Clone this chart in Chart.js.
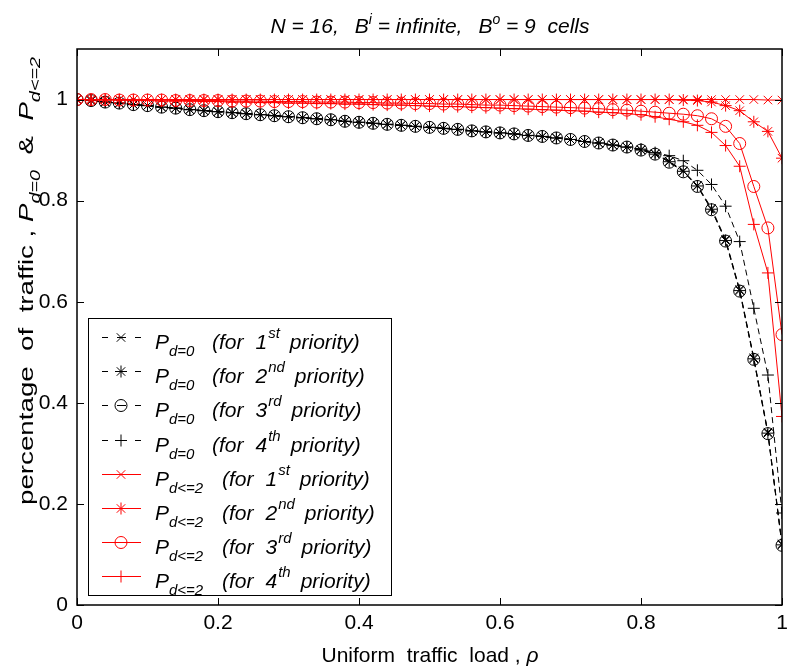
<!DOCTYPE html>
<html>
<head>
<meta charset="utf-8">
<script src="https://cdn.jsdelivr.net/npm/chart.js@4.4.0/dist/chart.umd.min.js"></script>
<style>
  html, body { margin: 0; padding: 0; background: #fff; }
  #chart { display: block; }
</style>
</head>
<body>
<canvas id="chart" width="789" height="671" style="width:789px;height:671px"></canvas>
<script>
// Uniform traffic load (x axis)
const loadValues = [
    0.00, 0.02, 0.04, 0.06, 0.08, 0.10, 0.12, 0.14, 0.16, 0.18,
    0.20, 0.22, 0.24, 0.26, 0.28, 0.30, 0.32, 0.34, 0.36, 0.38,
    0.40, 0.42, 0.44, 0.46, 0.48, 0.50, 0.52, 0.54, 0.56, 0.58,
    0.60, 0.62, 0.64, 0.66, 0.68, 0.70, 0.72, 0.74, 0.76, 0.78,
    0.80, 0.82, 0.84, 0.86, 0.88, 0.90, 0.92, 0.94, 0.96, 0.98, 1.00
];

// P_d=0 (black, dashed)
const pd0First = [
    1.000, 0.998, 0.995, 0.993, 0.990, 0.988, 0.985, 0.983, 0.980, 0.978,
    0.976, 0.974, 0.972, 0.970, 0.968, 0.966, 0.964, 0.962, 0.960, 0.957,
    0.955, 0.953, 0.951, 0.949, 0.947, 0.945, 0.943, 0.941, 0.938, 0.936,
    0.934, 0.932, 0.929, 0.927, 0.924, 0.921, 0.917, 0.914, 0.910, 0.906,
    0.901, 0.893, 0.878, 0.859, 0.830, 0.785, 0.723, 0.624, 0.489, 0.342, 0.121
];
const pd0Second = [
    1.000, 0.998, 0.995, 0.993, 0.990, 0.988, 0.985, 0.983, 0.980, 0.978,
    0.976, 0.974, 0.972, 0.970, 0.968, 0.966, 0.964, 0.962, 0.960, 0.957,
    0.955, 0.953, 0.951, 0.949, 0.947, 0.945, 0.943, 0.941, 0.938, 0.936,
    0.934, 0.932, 0.929, 0.927, 0.924, 0.921, 0.917, 0.914, 0.910, 0.906,
    0.900, 0.892, 0.877, 0.858, 0.829, 0.783, 0.721, 0.622, 0.487, 0.340, 0.119
];
const pd0Third = [
    1.000, 0.998, 0.995, 0.993, 0.990, 0.988, 0.985, 0.983, 0.980, 0.978,
    0.976, 0.974, 0.972, 0.970, 0.968, 0.966, 0.964, 0.962, 0.960, 0.957,
    0.955, 0.953, 0.951, 0.949, 0.947, 0.945, 0.943, 0.941, 0.938, 0.936,
    0.934, 0.932, 0.929, 0.927, 0.924, 0.921, 0.917, 0.914, 0.910, 0.906,
    0.900, 0.892, 0.876, 0.857, 0.828, 0.782, 0.720, 0.621, 0.486, 0.339, 0.118
];
const pd0Fourth = [
    1.000, 0.998, 0.995, 0.993, 0.990, 0.988, 0.985, 0.983, 0.980, 0.978,
    0.976, 0.974, 0.972, 0.970, 0.968, 0.966, 0.964, 0.962, 0.960, 0.957,
    0.955, 0.953, 0.951, 0.949, 0.947, 0.945, 0.943, 0.941, 0.938, 0.936,
    0.934, 0.932, 0.929, 0.927, 0.924, 0.921, 0.917, 0.914, 0.910, 0.906,
    0.902, 0.895, 0.889, 0.879, 0.860, 0.832, 0.789, 0.719, 0.587, 0.455, 0.182
];

// P_d<=2 (red, solid)
const pd2First = [
    1.000, 1.000, 1.000, 1.000, 1.000, 1.000, 1.000, 1.000, 1.000, 1.000,
    1.000, 1.000, 1.000, 1.000, 1.000, 1.000, 1.000, 1.000, 1.000, 1.000,
    1.000, 1.000, 1.000, 1.000, 1.000, 1.000, 1.000, 1.000, 1.000, 1.000,
    1.000, 1.000, 1.000, 1.000, 1.000, 1.000, 1.000, 1.000, 1.000, 1.000,
    1.000, 1.000, 1.000, 1.000, 1.000, 1.000, 1.000, 1.000, 1.000, 0.999, 0.999
];
const pd2Second = [
    1.000, 1.000, 1.000, 1.000, 1.000, 1.000, 1.000, 1.000, 1.000, 1.000,
    1.000, 1.000, 1.000, 1.000, 1.000, 1.000, 1.000, 1.000, 1.000, 1.000,
    1.000, 1.000, 1.000, 1.000, 1.000, 1.000, 1.000, 1.000, 1.000, 1.000,
    1.000, 1.000, 1.000, 1.000, 1.000, 1.000, 1.000, 1.000, 1.000, 1.000,
    1.000, 1.000, 1.000, 0.999, 0.998, 0.995, 0.988, 0.978, 0.956, 0.937, 0.884
];
const pd2Third = [
    1.000, 1.000, 1.000, 0.999, 0.999, 0.999, 0.999, 0.998, 0.998, 0.998,
    0.998, 0.997, 0.997, 0.997, 0.996, 0.996, 0.996, 0.995, 0.995, 0.995,
    0.994, 0.994, 0.993, 0.993, 0.992, 0.992, 0.991, 0.991, 0.990, 0.989,
    0.989, 0.988, 0.987, 0.986, 0.985, 0.984, 0.983, 0.982, 0.980, 0.979,
    0.977, 0.975, 0.973, 0.971, 0.968, 0.962, 0.947, 0.913, 0.828, 0.746, 0.535
];
const pd2Fourth = [
    1.000, 0.999, 0.999, 0.999, 0.998, 0.998, 0.997, 0.997, 0.997, 0.996,
    0.996, 0.995, 0.995, 0.994, 0.994, 0.993, 0.993, 0.992, 0.992, 0.991,
    0.991, 0.990, 0.989, 0.989, 0.988, 0.987, 0.986, 0.986, 0.985, 0.984,
    0.983, 0.982, 0.981, 0.980, 0.979, 0.978, 0.977, 0.975, 0.974, 0.972,
    0.970, 0.966, 0.961, 0.956, 0.949, 0.935, 0.909, 0.868, 0.753, 0.657, 0.373
];

const xTicks = [0, 0.2, 0.4, 0.6, 0.8, 1];
const yTicks = [0, 0.2, 0.4, 0.6, 0.8, 1];

const legendRows = [
    { sub: 'd=0', ord: '1', sup: 'st', color: '#000', dashed: true, marker: 'crossRot' },
    { sub: 'd=0', ord: '2', sup: 'nd', color: '#000', dashed: true, marker: 'star' },
    { sub: 'd=0', ord: '3', sup: 'rd', color: '#000', dashed: true, marker: 'circle' },
    { sub: 'd=0', ord: '4', sup: 'th', color: '#000', dashed: true, marker: 'cross' },
    { sub: 'd<=2', ord: '1', sup: 'st', color: '#ff0000', dashed: false, marker: 'crossRot' },
    { sub: 'd<=2', ord: '2', sup: 'nd', color: '#ff0000', dashed: false, marker: 'star' },
    { sub: 'd<=2', ord: '3', sup: 'rd', color: '#ff0000', dashed: false, marker: 'circle' },
    { sub: 'd<=2', ord: '4', sup: 'th', color: '#ff0000', dashed: false, marker: 'cross' }
];

const FONT = '"Liberation Sans", Arial, Helvetica, sans-serif';

function series(values, color, marker, dashed) {
    return {
        data: loadValues.map((x, i) => ({ x: x, y: values[i] })),
        borderColor: color,
        borderWidth: 1,
        borderDash: dashed ? [6, 4] : [],
        pointStyle: marker,
        pointRadius: 6,
        pointBorderWidth: 1,
        pointBorderColor: color,
        pointBackgroundColor: 'rgba(0,0,0,0)',
        order: dashed ? 1 : 0,
        tension: 0
    };
}

// draws a run of text pieces one after another (for sub/superscripts)
function drawRuns(ctx, x, y, runs, measureOnly) {
    let cx = x;
    runs.forEach(r => {
        ctx.font = (r.italic === false ? '' : 'italic ') + (r.size || 21) + 'px ' + FONT;
        cx += r.dx || 0;
        if (!measureOnly) ctx.fillText(r.text, cx, y + (r.dy || 0));
        cx += ctx.measureText(r.text).width;
    });
    return cx - x;
}

const decorations = {
    id: 'decorations',
    afterDatasetsDraw(chart) {
        const ctx = chart.ctx;
        const area = chart.chartArea;
        const xs = chart.scales.x;
        const ys = chart.scales.y;
        ctx.save();
        ctx.strokeStyle = '#000';
        ctx.lineWidth = 1.5;
        ctx.setLineDash([]);
        ctx.strokeRect(area.left, area.top, area.right - area.left, area.bottom - area.top);

        // inward ticks on all four sides
        ctx.lineWidth = 1;
        const tl = 7;
        ctx.beginPath();
        xTicks.forEach(v => {
            const px = Math.round(xs.getPixelForValue(v)) + 0.5;
            ctx.moveTo(px, area.bottom); ctx.lineTo(px, area.bottom - tl);
            ctx.moveTo(px, area.top); ctx.lineTo(px, area.top + tl);
        });
        yTicks.forEach(v => {
            const py = Math.round(ys.getPixelForValue(v)) + 0.5;
            ctx.moveTo(area.left, py); ctx.lineTo(area.left + tl, py);
            ctx.moveTo(area.right, py); ctx.lineTo(area.right - tl, py);
        });
        ctx.stroke();

        // legend box
        const bx = 88, by = 318, bw = 303, bh = 277;
        ctx.fillStyle = '#fff';
        ctx.fillRect(bx, by, bw, bh);
        ctx.lineWidth = 1;
        ctx.strokeRect(bx + 0.5, by + 0.5, bw, bh);

        legendRows.forEach((row, k) => {
            const ly = Math.round(337 + k * 34.2) + 0.5;
            ctx.strokeStyle = row.color;
            ctx.lineWidth = 1;
            ctx.setLineDash(row.dashed ? [6, 9, 9, 9] : []);
            ctx.beginPath();
            ctx.moveTo(102, ly);
            ctx.lineTo(141, ly);
            ctx.stroke();
            ctx.setLineDash([]);
            ctx.fillStyle = 'rgba(0,0,0,0)';
            Chart.helpers.drawPoint(ctx, {
                pointStyle: row.marker, radius: 6, borderWidth: 1, rotation: 0
            }, 121, ly);

            ctx.fillStyle = '#000';
            ctx.textBaseline = 'alphabetic';
            ctx.textAlign = 'left';
            const base = ly + 11;
            drawRuns(ctx, 155, base, [
                { text: 'P' },
                { text: row.sub, size: 15, dy: 7 }
            ]);
            const fx = row.dashed ? 212 : 222;
            drawRuns(ctx, fx, base, [
                { text: '(for' },
                { text: row.ord, dx: 12 },
                { text: row.sup, size: 15, dy: -11, dx: 1 },
                { text: 'priority)', dx: 10 }
            ]);
        });

        // title
        ctx.fillStyle = '#000';
        const titleRuns = [
            { text: 'N = 16,' },
            { text: 'B', dx: 16 },
            { text: 'i', size: 14, dy: -9 },
            { text: ' = infinite,' },
            { text: 'B', dx: 16 },
            { text: 'o', size: 14, dy: -9 },
            { text: ' = 9  cells' }
        ];
        const tw = drawRuns(ctx, 0, 0, titleRuns, true);
        drawRuns(ctx, 430 - tw / 2, 33, titleRuns);

        // x axis title
        const xRuns = [
            { text: 'Uniform  traffic  load , ', italic: false },
            { text: '\u03c1' }
        ];
        const xw = drawRuns(ctx, 0, 0, xRuns, true);
        drawRuns(ctx, 430 - xw / 2, 662, xRuns);

        // y axis title (rotated, stretched along its length like the original)
        ctx.translate(33, 505);
        ctx.rotate(-Math.PI / 2);
        ctx.scale(1.32, 1);
        drawRuns(ctx, 0, 0, [
            { text: 'percentage  of  traffic , ', italic: false },
            { text: 'P' },
            { text: 'd=0', size: 15, dy: 7 },
            { text: '  &  ', italic: false },
            { text: 'P' },
            { text: 'd<=2', size: 15, dy: 7 }
        ]);
        ctx.restore();
    }
};

const ctx = document.getElementById('chart').getContext('2d');
new Chart(ctx, {
    type: 'line',
    data: {
        datasets: [
            series(pd0First, '#000', 'crossRot', true),
            series(pd0Second, '#000', 'star', true),
            series(pd0Third, '#000', 'circle', true),
            series(pd0Fourth, '#000', 'cross', true),
            series(pd2First, '#ff0000', 'crossRot', false),
            series(pd2Second, '#ff0000', 'star', false),
            series(pd2Third, '#ff0000', 'circle', false),
            series(pd2Fourth, '#ff0000', 'cross', false)
        ]
    },
    options: {
        responsive: false,
        animation: false,
        devicePixelRatio: 1,
        layout: { padding: { left: 0, right: -4, top: 49, bottom: 0 } },
        plugins: {
            legend: { display: false },
            tooltip: { enabled: false },
            title: { display: false }
        },
        scales: {
            x: {
                type: 'linear',
                min: 0,
                max: 1,
                grid: { display: false, drawTicks: false },
                border: { display: false },
                afterBuildTicks: s => { s.ticks = xTicks.map(v => ({ value: v })); },
                afterFit: s => { s.height = 66; s.paddingLeft = 0; s.paddingRight = 0; },
                ticks: {
                    color: '#000',
                    padding: 6,
                    maxRotation: 0,
                    font: { family: FONT, size: 21 },
                    callback: v => String(Math.round(v * 10) / 10)
                }
            },
            y: {
                type: 'linear',
                min: 0,
                max: 1.1,
                grid: { display: false, drawTicks: false },
                border: { display: false },
                afterBuildTicks: s => { s.ticks = yTicks.map(v => ({ value: v })); },
                afterFit: s => { s.width = 77; s.paddingTop = 0; s.paddingBottom = 0; },
                ticks: {
                    color: '#000',
                    padding: 9,
                    font: { family: FONT, size: 21 },
                    callback: v => String(Math.round(v * 10) / 10)
                }
            }
        }
    },
    plugins: [decorations]
});
</script>
</body>
</html>
